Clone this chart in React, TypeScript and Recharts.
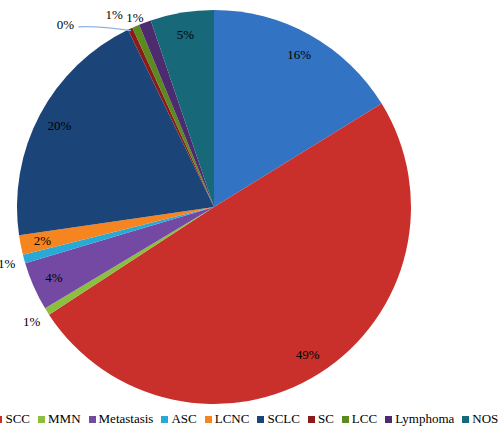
import { PieChart, Pie, Cell, Legend } from "recharts";

const categories = ["ADC", "SCC", "MMN", "Metastasis", "ASC", "LCNC", "SCLC", "SC", "LCC", "Lymphoma", "NOS"];
const values = [16.2, 49.6, 0.6, 4.0, 0.7, 1.6, 20.1, 0.4, 0.6, 1.0, 5.2];
const labels = ["16%", "49%", "1%", "4%", "1%", "2%", "20%", "0%", "1%", "1%", "5%"];
const colors = ["#3373C4", "#C9302C", "#8CBF3F", "#7349A3", "#28A9D6", "#F7851F", "#1B4478", "#8B1A1A", "#5B8A1E", "#4C2B6E", "#17697A"];

const data = categories.map((name, i) => ({ name, value: values[i], label: labels[i] }));

const RAD = Math.PI / 180;
const font = "'Liberation Serif', serif";

function renderLabel(props: any) {
  const { cx, cy, midAngle, outerRadius, index, percent } = props;
  const small = percent < 0.015;
  let angle = midAngle;
  let r = small ? outerRadius + 18 : outerRadius - 22;
  // a few small slices get nudged so their labels don't collide
  if (index === 7) {
    angle = midAngle + 14;
    r = outerRadius + 38;
  }
  if (index === 8) {
    angle = midAngle + 4;
    r = outerRadius + 20;
  }
  if (index === 9) {
    angle = midAngle + 2.2;
    r = outerRadius + 8;
  }
  const x = cx + r * Math.cos(-angle * RAD);
  const y = cy + r * Math.sin(-angle * RAD);
  const lx = cx + (outerRadius - 2) * Math.cos(-midAngle * RAD);
  const ly = cy + (outerRadius - 2) * Math.sin(-midAngle * RAD);
  return (
    <g>
      {index === 7 && (
        <path d={`M${x + 13},${y + 2} Q${(x + lx) / 2},${y + 1} ${lx},${ly}`} stroke="#8FB4E3" strokeWidth={1.2} fill="none" />
      )}
      <text x={x} y={y} textAnchor="middle" dominantBaseline="central" style={{ fontFamily: font }} fontSize={13} fill="#000">
        {labels[index]}
      </text>
    </g>
  );
}

function LegendContent() {
  return (
    <div style={{ display: "flex", whiteSpace: "nowrap", fontFamily: font, fontSize: 13, color: "#000" }}>
      {categories.map((c, i) => (
        <span key={c} style={{ display: "inline-flex", alignItems: "center", marginRight: 8 }}>
          <span style={{ width: 7, height: 7, background: colors[i], marginRight: 3, display: "inline-block" }} />
          {c}
        </span>
      ))}
    </div>
  );
}

export default function App() {
  return (
    <div style={{ position: "absolute", left: 0, top: 0, width: 498, height: 430, overflow: "hidden", background: "#fff", fontFamily: font }}>
      <PieChart width={498} height={430} style={{ fontFamily: font }}>
        <Pie
          data={data}
          dataKey="value"
          nameKey="name"
          cx={209}
          cy={202}
          outerRadius={197}
          startAngle={90}
          endAngle={-270}
          stroke="none"
          label={renderLabel}
          labelLine={false}
          isAnimationActive={false}
        >
          {data.map((d, i) => (
            <Cell key={d.name} fill={colors[i]} />
          ))}
        </Pie>
        <Legend content={<LegendContent />} wrapperStyle={{ position: "absolute", left: -50, top: 411, width: 600 }} />
      </PieChart>
    </div>
  );
}
